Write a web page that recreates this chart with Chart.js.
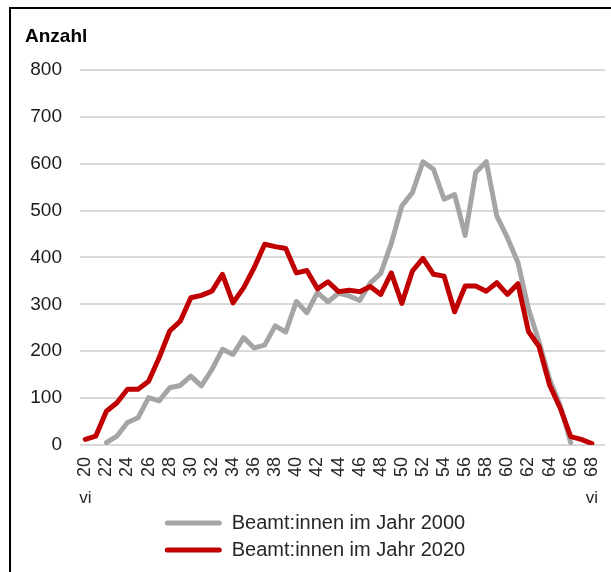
<!DOCTYPE html>
<html>
<head>
<meta charset="utf-8">
<script src="https://cdn.jsdelivr.net/npm/chart.js@4/dist/chart.umd.min.js"></script>
<style>
  html, body { margin: 0; padding: 0; background: #fff; overflow: hidden; }
  #wrap { position: relative; width: 611px; height: 572px; }
  #frame { position: absolute; left: 9px; top: 7px; width: 700px; height: 700px;
           border-top: 2px solid #000; border-left: 2px solid #000; pointer-events: none; }
  canvas { position: absolute; left: 0; top: 0; }
</style>
</head>
<body>
<div id="wrap">
  <canvas id="chart" width="611" height="572"></canvas>
  <div id="frame"></div>
</div>
<script>
// Alter in Jahren
const ages = [20, 21, 22, 23, 24, 25, 26, 27, 28, 29, 30, 31, 32, 33, 34, 35, 36, 37, 38, 39,
  40, 41, 42, 43, 44, 45, 46, 47, 48, 49, 50, 51, 52, 53, 54, 55, 56, 57, 58, 59,
  60, 61, 62, 63, 64, 65, 66, 67, 68];

const year2000 = [null, null, 5, 19, 48, 58, 101, 94, 122, 127, 147, 126, 161, 204, 193, 229, 207, 213, 254, 241,
  306, 282, 325, 305, 324, 318, 308, 345, 366, 430, 510, 538, 604, 588, 524, 534, 447, 581, 604, 488,
  442, 389, 290, 220, 140, 85, 5, null, null];

const year2020 = [12, 19, 72, 90, 119, 119, 136, 186, 243, 264, 314, 319, 328, 364, 303, 335, 378, 428, 423, 419,
  367, 372, 333, 348, 327, 330, 327, 338, 321, 367, 302, 371, 398, 364, 360, 284, 339, 339, 328, 346,
  321, 344, 242, 210, 128, 79, 18, 12, 3];

const tickAges = [20, 22, 24, 26, 28, 30, 32, 34, 36, 38, 40, 42, 44, 46, 48, 50, 52, 54, 56, 58, 60, 62, 64, 66, 68];
const edgeAges = [20, 68];
const edgeTexts = ['vi', 'vi'];

const seriesNames = ['Beamt:innen im Jahr 2000', 'Beamt:innen im Jahr 2020'];

const FONT = "'Liberation Sans', Arial, sans-serif";

function points(values) {
  return ages.map((a, i) => ({ x: a, y: values[i] }));
}

// "vi" unter dem ersten und letzten Alter
const edgeLabels = {
  id: 'edgeLabels',
  afterDraw(chart) {
    const c = chart.ctx;
    const xs = chart.scales.x;
    c.save();
    c.font = '17px ' + FONT;
    c.fillStyle = '#262626';
    c.textAlign = 'center';
    c.textBaseline = 'middle';
    edgeAges.forEach((a, i) => {
      c.fillText(edgeTexts[i], xs.getPixelForValue(a), 498);
    });
    c.restore();
  }
};

const ctx = document.getElementById('chart');
const chart = new Chart(ctx, {
  type: 'line',
  data: {
    datasets: [{
      label: seriesNames[0],
      data: points(year2000),
      borderColor: '#a5a5a5',
      backgroundColor: '#a5a5a5',
      borderWidth: 5,
      order: 1
    }, {
      label: seriesNames[1],
      data: points(year2020),
      borderColor: '#c00000',
      backgroundColor: '#c00000',
      borderWidth: 5,
      order: 0
    }]
  },
  options: {
    responsive: false,
    animation: false,
    layout: { padding: { left: 25, right: 6, top: 25, bottom: 2 } },
    elements: {
      point: { radius: 0, hoverRadius: 0 },
      line: { tension: 0, borderJoinStyle: 'round', borderCapStyle: 'round' }
    },
    scales: {
      x: {
        type: 'linear',
        min: 19.5,
        max: 69.25,
        afterBuildTicks: (scale) => { scale.ticks = tickAges.map(v => ({ value: v })); },
        afterFit: (scale) => {
          scale.height = 61;
          scale.paddingLeft = 0;
          scale.paddingRight = 0;
        },
        grid: { display: false, drawTicks: false },
        border: { display: false },
        ticks: {
          minRotation: 90,
          maxRotation: 90,
          autoSkip: false,
          padding: 12,
          color: '#262626',
          font: { family: FONT, size: 18 },
          callback: (v) => String(v)
        }
      },
      y: {
        min: 0,
        max: 800,
        afterFit: (scale) => { scale.width = 55; },
        grid: { color: '#d9d9d9', lineWidth: 2, drawTicks: false },
        border: { display: false },
        ticks: {
          stepSize: 100,
          padding: 18,
          color: '#1a1a1a',
          font: { family: FONT, size: 19 }
        }
      }
    },
    plugins: {
      title: {
        display: true,
        text: 'Anzahl',
        align: 'start',
        color: '#000',
        font: { family: FONT, size: 19, weight: 'bold' },
        padding: { top: 0, bottom: 22 }
      },
      legend: {
        position: 'bottom',
        labels: {
          boxWidth: 57,
          boxHeight: 5,
          padding: 7,
          useBorderRadius: true,
          borderRadius: 2.5,
          color: '#262626',
          font: { family: FONT, size: 20 },
          sort: (a, b) => a.datasetIndex - b.datasetIndex,
          generateLabels: (chart) => Chart.defaults.plugins.legend.labels.generateLabels(chart)
            .map(item => Object.assign(item, { lineWidth: 0 }))
        }
      },
      tooltip: { enabled: false }
    }
  },
  plugins: [edgeLabels]
});
</script>
</body>
</html>
